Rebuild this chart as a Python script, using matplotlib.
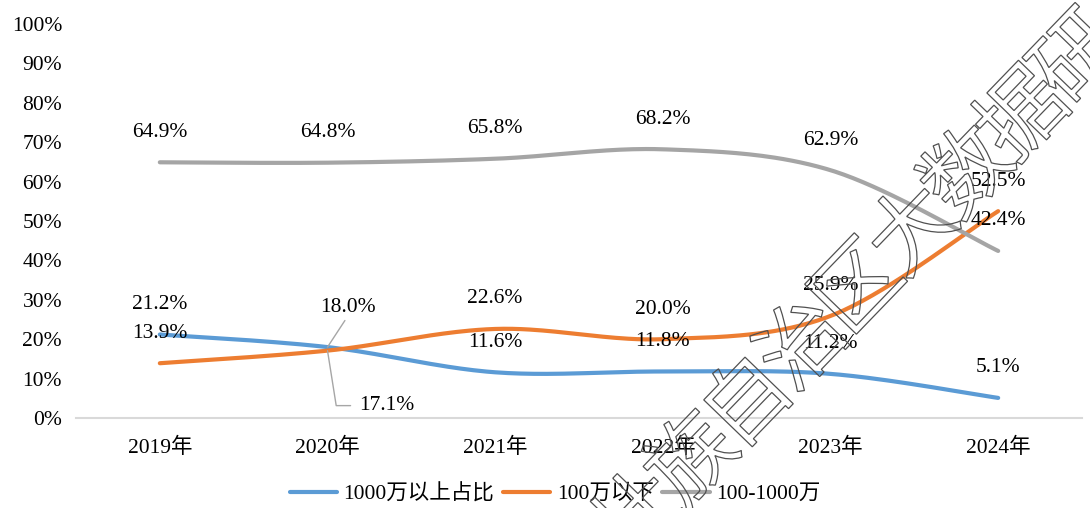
import numpy as np
import matplotlib
matplotlib.use("Agg")
import matplotlib.pyplot as plt
from matplotlib import patheffects as pe

plt.rcParams['font.family'] = ['Liberation Serif', 'Noto Sans CJK SC']

years = ["2019年", "2020年", "2021年", "2022年", "2023年", "2024年"]
above_1000 = [21.2, 18.0, 11.6, 11.8, 11.2, 5.1]
below_100 = [13.9, 17.1, 22.6, 20.0, 25.9, 52.5]
mid_100_1000 = [64.9, 64.8, 65.8, 68.2, 62.9, 42.4]
series_names = ["1000万以上占比", "100万以下", "100-1000万"]
colors = ["#5B9BD5", "#ED7D31", "#A5A5A5"]
yticks = [0, 10, 20, 30, 40, 50, 60, 70, 80, 90, 100]
watermark = "壮族自治区大数据研"


def smooth(xs, ys, n=40):
    xs = np.asarray(xs, float)
    ys = np.asarray(ys, float)
    P = np.column_stack([xs, ys])
    m = len(P)
    out = []
    for i in range(m - 1):
        p0 = P[max(i - 1, 0)]
        p1 = P[i]
        p2 = P[i + 1]
        p3 = P[min(i + 2, m - 1)]
        c1 = p1 + (p2 - p0) / 6.0
        c2 = p2 - (p3 - p1) / 6.0
        t = np.linspace(0, 1, n)[:, None]
        seg = ((1 - t) ** 3) * p1 + 3 * ((1 - t) ** 2) * t * c1 + 3 * (1 - t) * t ** 2 * c2 + t ** 3 * p2
        out.append(seg if i == 0 else seg[1:])
    a = np.vstack(out)
    return a[:, 0], a[:, 1]


W, H = 1090, 508
fig = plt.figure(figsize=(W / 100, H / 100), dpi=100)
ax = fig.add_axes([76 / W, 90 / H, 1006 / W, 394 / H])

x = np.arange(len(years))
data = [above_1000, below_100, mid_100_1000]
handles = []
for vals, name, c in zip(data, series_names, colors):
    sx, sy = smooth(x, vals)
    h, = ax.plot(sx, sy, color=c, lw=3, solid_capstyle='round', label=name, zorder=3)
    handles.append(h)

fs = 15.5
off = 21.6
for vals, si in zip(data, range(3)):
    for i, v in enumerate(vals):
        if i == 1 and si in (0, 1):
            continue
        ax.annotate(f"{v:.1f}%", (x[i], v), xytext=(0, off), textcoords='offset points',
                    ha='center', va='center', fontsize=fs, color='#000000', zorder=5)

# 2020 labels with leader lines
ax.annotate(f"{above_1000[1]:.1f}%", (x[1], above_1000[1]), xytext=(14.4, 28.8),
            textcoords='offset points', ha='center', va='center', fontsize=fs,
            arrowprops=dict(arrowstyle='-', color='#A6A6A6', lw=1.0, shrinkA=1, shrinkB=0,
                            relpos=(0.5, 0.0)), zorder=5)
ax.annotate(f"{below_100[1]:.1f}%", (x[1], below_100[1]), xytext=(42.5, -39.6),
            textcoords='offset points', ha='center', va='center', fontsize=fs,
            arrowprops=dict(arrowstyle='-', color='#A6A6A6', lw=1.0, shrinkA=4, shrinkB=0,
                            relpos=(0.0, 0.5),
                            connectionstyle='angle,angleA=0,angleB=-81,rad=0'), zorder=5)

ax.set_xlim(-0.5, len(years) - 0.5)
ax.set_ylim(0, 100)
ax.set_yticks(yticks)
ax.set_yticklabels([f"{t}%" for t in yticks], fontsize=fs)
ax.set_xticks(x)
ax.set_xticklabels(years, fontsize=fs)
ax.tick_params(axis='both', length=0)
ax.tick_params(axis='y', pad=10)
ax.tick_params(axis='x', pad=14)
for s in ['top', 'right', 'left']:
    ax.spines[s].set_visible(False)
ax.spines['bottom'].set_color('#D9D9D9')
ax.spines['bottom'].set_linewidth(1.5)

fig.legend(handles=handles, labels=series_names, loc='center', ncol=3,
           bbox_to_anchor=(555 / W, 14 / H), frameon=False, fontsize=fs,
           handlelength=2.2, handletextpad=0.3, columnspacing=0.4)

# diagonal outlined watermark, one glyph at a time along a 46-degree line
start = np.array([640.0, 519.0])   # pixel centre of first glyph (from top-left)
step = np.array([55.0, -57.4])
for k, ch in enumerate(watermark):
    px, py = start + k * step
    fig.text(px / W, (H - py) / H, ch, rotation=46, ha='center', va='center',
             rotation_mode='anchor', fontsize=62, family='Noto Sans CJK SC', color='none',
             path_effects=[pe.PathPatchEffect(edgecolor='#505050', facecolor='none', linewidth=0.9)],
             zorder=10)

fig.savefig("out.png", dpi=100)
